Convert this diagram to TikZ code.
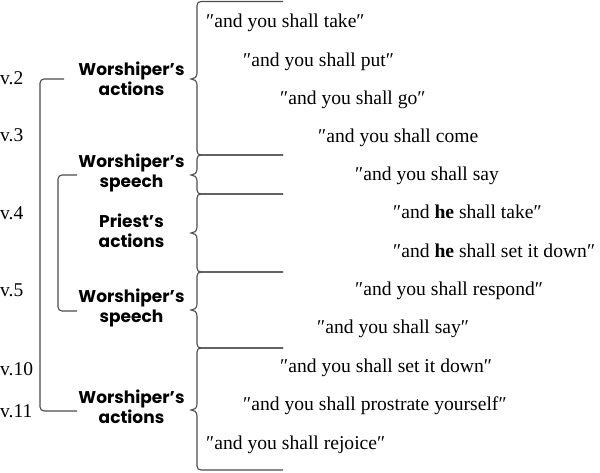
\documentclass[tikz,border=0pt]{standalone}
\usepackage{fontspec}
\setmainfont{Liberation Serif}
\newfontfamily\labfont{Poppins}
\begin{document}
\begin{tikzpicture}[x=1pt,y=-1pt,
  br/.style={draw=black!70,line width=1.1pt},
  qt/.style={anchor=base west,inner sep=0pt,font=\fontsize{19.6}{21}\selectfont},
  vl/.style={anchor=base west,inner sep=0pt,font=\fontsize{19.5}{21}\selectfont},
  lab/.style={align=center,inner sep=0pt,font=\labfont\bfseries\fontsize{17}{20}\selectfont}]
\useasboundingbox (0,0) rectangle (600,473);
\newcommand\mybrace[3]{%
  \draw[br] (283,#1) -- (201,#1) .. controls (198.5,#1) and (197,#1+1.5) .. (197,#1+4)
    -- (197,#2-6) .. controls (197,#2-1.5) and (194,#2) .. (191,#2)
    .. controls (194,#2) and (197,#2+1.5) .. (197,#2+6)
    -- (197,#3-4) .. controls (197,#3-1.5) and (198.5,#3) .. (201,#3) -- (283,#3);}
% braces
\mybrace{1.5}{79}{155}
\mybrace{155}{175}{194}
\mybrace{194}{233}{272}
\mybrace{272}{310}{348}
\mybrace{348}{410}{470}
% verse labels
\node[vl] (v2) at (0,85) {v.2};
\node[vl] (v3) at (0,142) {v.3};
\node[vl] (v4) at (0,220) {v.4};
\node[vl] (v5) at (0,297) {v.5};
\node[vl] (v10) at (0,375) {v.10};
\node[vl] (v11) at (0,417) {v.11};
% group labels
\node[lab] (g1) at (131.5,79) {Worshiper’s\\actions};
\node[lab] (g2) at (131.5,173) {Worshiper’s\\speech};
\node[lab] (g3) at (131.5,231) {Priest’s\\actions};
\node[lab] (g4) at (131.5,308) {Worshiper’s\\speech};
\node[lab] (g5) at (131.5,407) {Worshiper’s\\actions};
% brackets
\coordinate (o1) at (64,79);
\coordinate (o2) at (77,411);
\coordinate (i1) at (77,175);
\coordinate (i2) at (77,311);
\draw[br,rounded corners=4] (o1) -- (40,79) -- (40,411) -- (o2);
\draw[br,rounded corners=4] (i1) -- (58,175) -- (58,311) -- (i2);
% quotes
\node[qt] (q1) at (206,28) {″and you shall take″};
\node[qt] (q2) at (243,66.5) {″and you shall put″};
\node[qt] (q3) at (280,104.5) {″and you shall go″};
\node[qt] (q4) at (318,143) {″and you shall come};
\node[qt] (q5) at (355,181) {″and you shall say};
\node[qt] (q6) at (393,219) {″and \textbf{he} shall take″};
\node[qt] (q7) at (393,257.5) {″and \textbf{he} shall set it down″};
\node[qt] (q8) at (355,295.5) {″and you shall respond″};
\node[qt] (q9) at (317,334) {″and you shall say″};
\node[qt] (q10) at (280,372) {″and you shall set it down″};
\node[qt] (q11) at (243,410) {″and you shall prostrate yourself″};
\node[qt] (q12) at (206,449) {″and you shall rejoice″};
\end{tikzpicture}
\end{document}
